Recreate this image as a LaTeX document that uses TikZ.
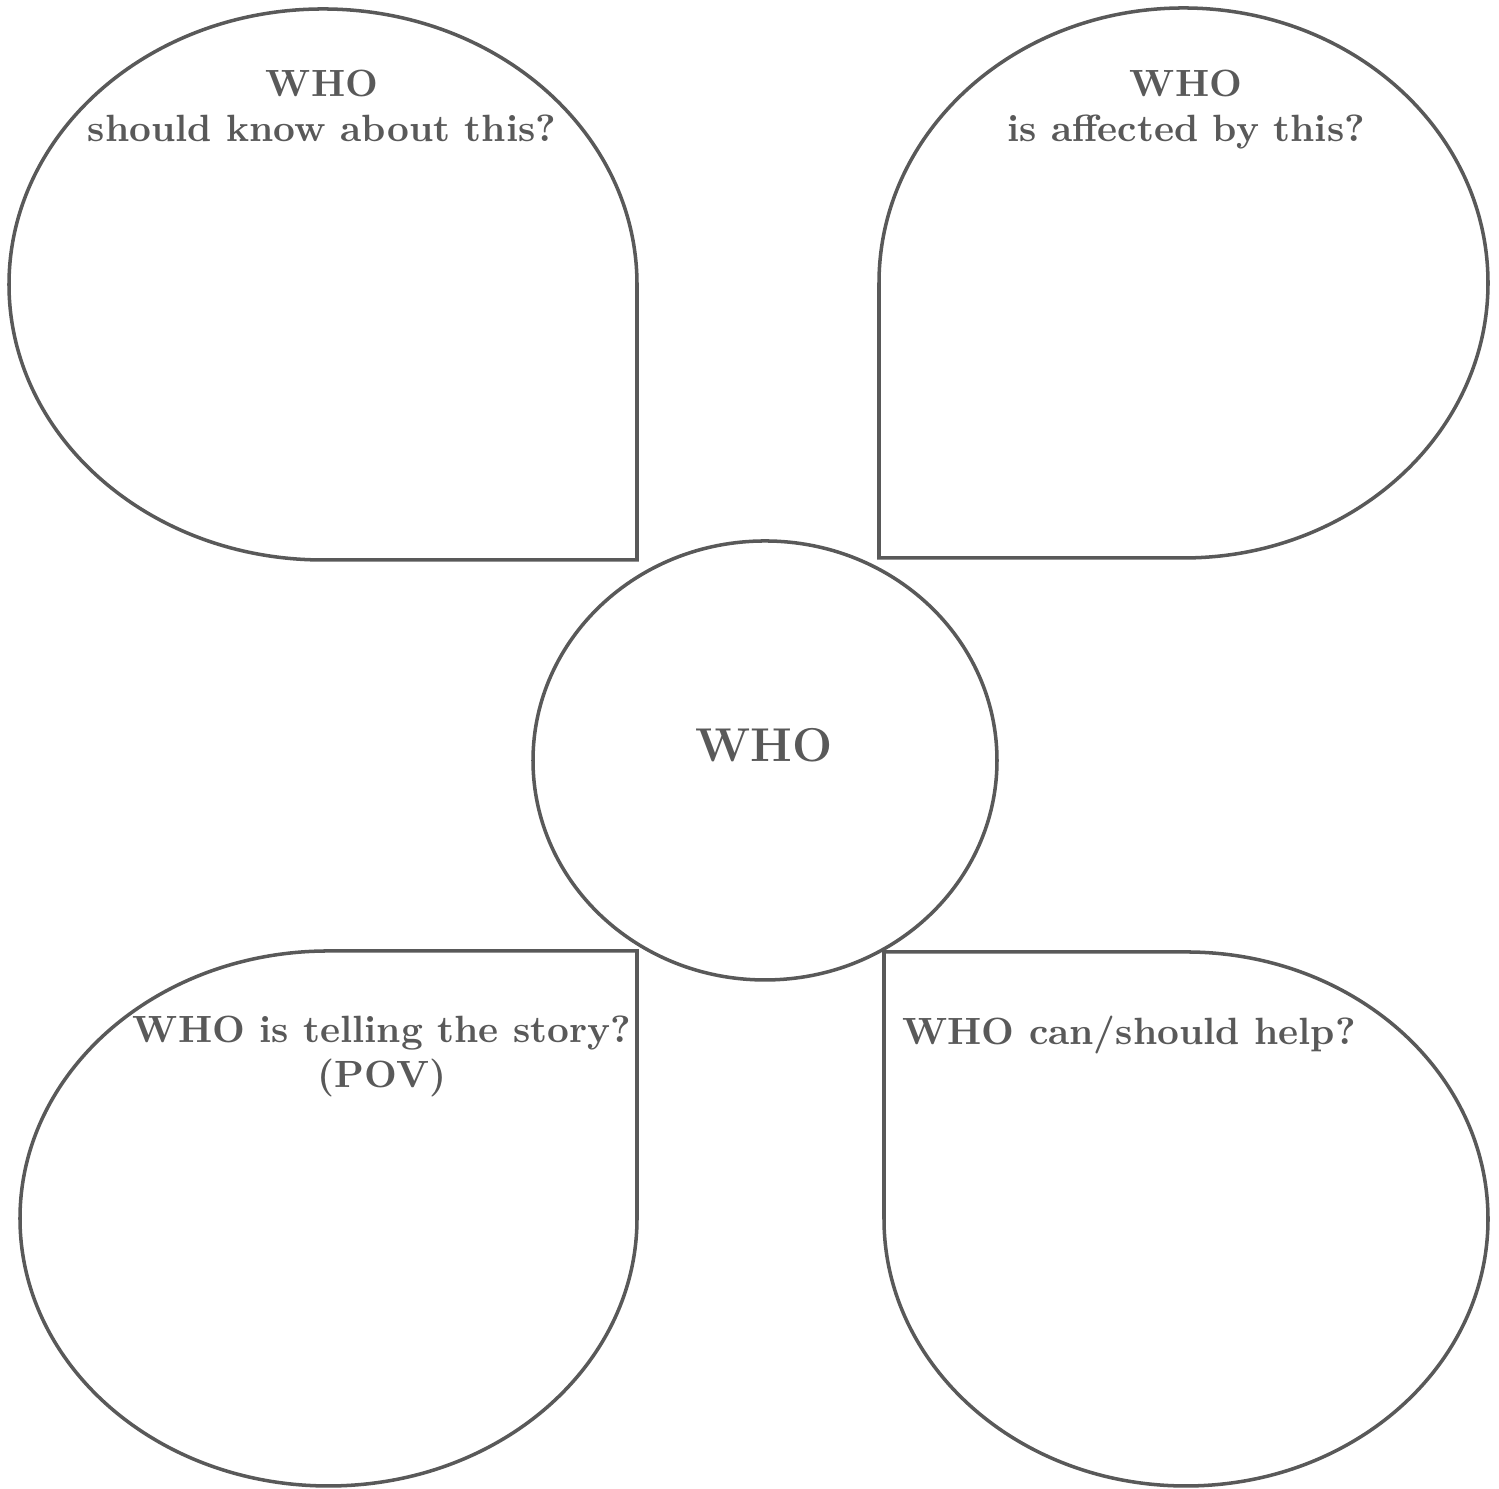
\documentclass[tikz,border=0pt]{standalone}
\usepackage{tikz}
\usetikzlibrary{positioning}
\definecolor{inkgray}{HTML}{595959}
\tikzstyle{petal}=[draw=inkgray,line width=1pt,line join=miter]
\tikzstyle{question}=[text=inkgray,inner sep=0pt,align=center,font=\fontsize{10.8}{12.8}\selectfont\bfseries]
\tikzstyle{hub}=[text=inkgray,inner sep=0pt,font=\fontsize{13.5}{16}\selectfont\bfseries]

\begin{document}
\begin{tikzpicture}[x=0.01cm,y=0.01cm]
    \useasboundingbox (0,0) rectangle (1499,1489);
    % First we draw the four petals: ellipse with one square corner
    \foreach \cx/\cy/\rx/\ry/\s in {323/1204.5/314/275.5/270, 1183.5/1206/304.5/275/180, 328.5/270.5/308.5/267.5/0, 1186/270/302/267/90}
        \draw[petal] ({\cx+\rx*cos(\s+90)},{\cy+\ry*sin(\s+90)})
            arc[start angle=\s+90, end angle=\s+360, x radius=\rx, y radius=\ry]
            -- ({\cx+\rx*(cos(\s)+cos(\s+90))},{\cy+\ry*(sin(\s)+sin(\s+90))}) -- cycle;
    % Then the middle ellipse
    \draw[petal] (765,728.5) ellipse [x radius=232, y radius=219.5];
    \node[hub] (who) at (764,744) {WHO};
    % The questions
    \foreach \pos/\name/\txt in {{(322,1420)/know/{WHO\\should know about this?}}, {(1186,1420)/affected/{WHO\\is affected by this?}}, {(382,474)/pov/{WHO is telling the story?\\(POV)}}, {(1129,474)/help/{WHO can/should help?}}}
        \node[question,anchor=north] (\name) at \pos {\txt};
\end{tikzpicture}
\end{document}
